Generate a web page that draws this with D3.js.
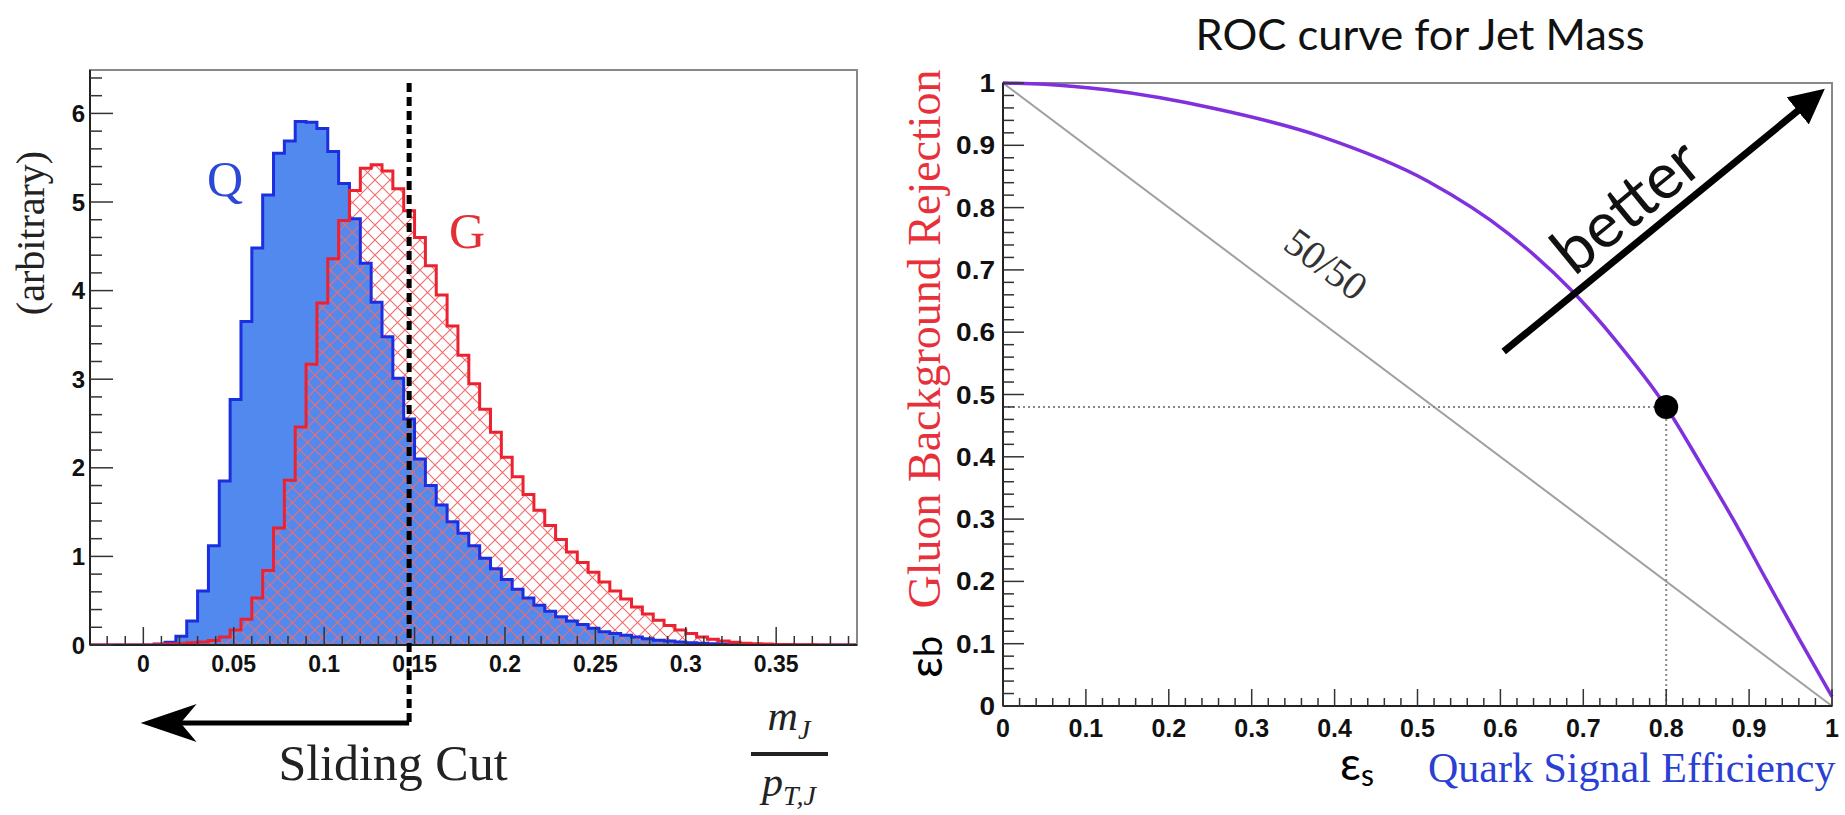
<!DOCTYPE html>
<html>
<head>
<meta charset="utf-8">
<script src="https://cdn.jsdelivr.net/npm/d3@7"></script>
<style>
	body { margin: 0; background: #fff; }
</style>
</head>
<body>
<svg id="fig" width="1845" height="815"></svg>
<script>
// histogram binning (mJ / pTJ)
const binLow = -0.03
const binWidth = 0.006
const quarkCounts = [0, 0, 0, 0, 0, 0, 0.01, 0.03, 0.10, 0.27, 0.61, 1.12, 1.85, 2.77, 3.65, 4.48, 5.08, 5.55, 5.69, 5.91,
	5.90, 5.83, 5.57, 5.21, 4.81, 4.31, 3.87, 3.48, 3.01, 2.55, 2.10, 1.80, 1.58, 1.39, 1.26, 1.12, 0.98, 0.86, 0.74, 0.63,
	0.53, 0.45, 0.38, 0.32, 0.27, 0.23, 0.19, 0.15, 0.13, 0.11, 0.09, 0.07, 0.055, 0.045, 0.035, 0.025, 0.02, 0.015, 0.01, 0.008,
	0.005, 0.003, 0, 0, 0, 0, 0, 0, 0, 0, 0]
const gluonCounts = [0, 0, 0, 0, 0, 0, 0.005, 0.01, 0.015, 0.025, 0.035, 0.05, 0.09, 0.17, 0.29, 0.53, 0.84, 1.32, 1.86, 2.46,
	3.17, 3.86, 4.36, 4.79, 5.13, 5.38, 5.42, 5.35, 5.15, 4.90, 4.60, 4.28, 3.95, 3.60, 3.27, 2.95, 2.66, 2.40, 2.12, 1.90,
	1.70, 1.52, 1.35, 1.19, 1.05, 0.93, 0.82, 0.71, 0.61, 0.52, 0.43, 0.35, 0.28, 0.22, 0.17, 0.13, 0.09, 0.065, 0.045, 0.03,
	0.02, 0.015, 0.01, 0.007, 0.005, 0.003, 0.002, 0, 0, 0, 0]
const histXTicks = [0, 0.05, 0.1, 0.15, 0.2, 0.25, 0.3, 0.35]
const histYTicks = [0, 1, 2, 3, 4, 5, 6]
const cutValue = 0.147

// ROC curve for jet mass
const rocSignal = [0, 0.05, 0.125, 0.255, 0.384, 0.513, 0.61, 0.688, 0.739, 0.8, 0.841, 0.881, 0.921, 0.961, 1.0]
const rocRejection = [1, 0.998, 0.989, 0.959, 0.914, 0.842, 0.758, 0.664, 0.587, 0.48, 0.39, 0.299, 0.202, 0.106, 0.015]
const rocTicks = [0, 0.1, 0.2, 0.3, 0.4, 0.5, 0.6, 0.7, 0.8, 0.9, 1]
const workingPoint = [0.8, 0.48]
const betterFrom = [0.604, 0.569]
const betterTo = [0.975, 0.973]

const svg = d3.select("#fig")
const defs = svg.append("defs")
const tickFont = "'Liberation Sans', Arial, sans-serif"
const serif = "'Liberation Serif', 'Times New Roman', serif"
const gill = "Lato, 'Open Sans', sans-serif"

// ---------------- left panel ----------------
let hx = d3.scaleLinear().domain([-0.0295, 0.3947]).range([90, 857])
let hy = d3.scaleLinear().domain([0, 6.49]).range([645, 70])

defs.append("clipPath").attr("id", "hclip")
	.append("rect").attr("x", 90).attr("y", 70).attr("width", 767).attr("height", 575)
let pat = defs.append("pattern").attr("id", "hatch")
	.attr("patternUnits", "userSpaceOnUse").attr("width", 15).attr("height", 15)
pat.append("path").attr("d", "M0,0L15,15M15,0L0,15")
	.attr("stroke", "#f26b6b").attr("stroke-width", 1.1).attr("fill", "none")

function histPoints(counts) {
	let pts = counts.map((c, i) => [binLow + i * binWidth, c])
	pts.push([binLow + counts.length * binWidth, counts[counts.length - 1]])
	return pts
}
let histLine = d3.line().x(d => hx(d[0])).y(d => hy(d[1])).curve(d3.curveStepAfter)
let histArea = d3.area().x(d => hx(d[0])).y0(hy(0)).y1(d => hy(d[1])).curve(d3.curveStepAfter)

let hg = svg.append("g").attr("clip-path", "url(#hclip)")
hg.append("path").attr("d", histArea(histPoints(quarkCounts))).attr("fill", "#5289ef")
hg.append("path").attr("d", histArea(histPoints(gluonCounts))).attr("fill", "url(#hatch)")
hg.append("path").attr("d", histLine(histPoints(quarkCounts)))
	.attr("fill", "none").attr("stroke", "#1c2fe0").attr("stroke-width", 3)
hg.append("path").attr("d", histLine(histPoints(gluonCounts)))
	.attr("fill", "none").attr("stroke", "#ec2230").attr("stroke-width", 3)

// frame + ticks (ROOT style, pointing inwards)
svg.append("rect").attr("x", 90).attr("y", 70).attr("width", 767).attr("height", 575)
	.attr("fill", "none").attr("stroke", "#888").attr("stroke-width", 2)
svg.append("line").attr("x1", 90).attr("x2", 857).attr("y1", 645).attr("y2", 645).attr("stroke", "#222").attr("stroke-width", 2)
svg.append("line").attr("x1", 90).attr("x2", 90).attr("y1", 70).attr("y2", 645).attr("stroke", "#222").attr("stroke-width", 2)

let hticks = svg.append("g").attr("stroke", "#333").attr("stroke-width", 1.5)
d3.range(-2, 40).map(k => k / 100).forEach(v => {
	let major = histXTicks.includes(+v.toFixed(2))
	hticks.append("line").attr("x1", hx(v)).attr("x2", hx(v))
		.attr("y1", 645).attr("y2", 645 - (major ? 18 : 9))
})
d3.range(0, 33).map(k => k / 5).forEach(v => {
	let major = Number.isInteger(v)
	hticks.append("line").attr("x1", 90).attr("x2", 90 + (major ? 23 : 12))
		.attr("y1", hy(v)).attr("y2", hy(v))
})

svg.selectAll("text.hxt").data(histXTicks).join("text").attr("class", "hxt")
	.attr("x", d => hx(d)).attr("y", 672)
	.attr("text-anchor", "middle").style("font-family", tickFont).style("font-weight", "bold")
	.style("font-size", "23px").attr("fill", "#111").text(d => String(d))
svg.selectAll("text.hyt").data(histYTicks).join("text").attr("class", "hyt")
	.attr("x", 85).attr("y", d => hy(d) + 8.5)
	.attr("text-anchor", "end").style("font-family", tickFont).style("font-weight", "bold")
	.style("font-size", "24px").attr("fill", "#111").text(d => String(d))

svg.append("text").attr("transform", "translate(44,233) rotate(-90)")
	.attr("text-anchor", "middle").style("font-family", serif).style("font-size", "40px")
	.attr("fill", "#222").text("(arbitrary)")

svg.append("text").attr("x", 225).attr("y", 196).attr("text-anchor", "middle")
	.style("font-family", serif).style("font-size", "50px").attr("fill", "#2c49d6").text("Q")
svg.append("text").attr("x", 467).attr("y", 248).attr("text-anchor", "middle")
	.style("font-family", serif).style("font-size", "50px").attr("fill", "#e23037").text("G")

// sliding cut
svg.append("line").attr("x1", hx(cutValue)).attr("x2", hx(cutValue)).attr("y1", 83).attr("y2", 723)
	.attr("stroke", "#000").attr("stroke-width", 5).attr("stroke-dasharray", "9,5")
svg.append("line").attr("x1", hx(cutValue)).attr("x2", hx(0) + 30).attr("y1", 723).attr("y2", 723)
	.attr("stroke", "#000").attr("stroke-width", 5)
let tip = hx(-0.0015)
svg.append("path")
	.attr("d", `M${tip},723L${tip + 56},704L${tip + 40},723L${tip + 56},742Z`)
	.attr("fill", "#000")
svg.append("text").attr("x", 393).attr("y", 780).attr("text-anchor", "middle")
	.style("font-family", serif).style("font-size", "50px").attr("fill", "#222").text("Sliding Cut")

// m_J / p_T,J
let frac = svg.append("g").style("font-family", serif).style("font-style", "italic").attr("fill", "#222")
let num = frac.append("text").attr("x", 789).attr("y", 730).attr("text-anchor", "middle").style("font-size", "42px")
num.append("tspan").text("m")
num.append("tspan").attr("dy", 9).style("font-size", "28px").text("J")
frac.append("line").attr("x1", 751).attr("x2", 828).attr("y1", 754).attr("y2", 754)
	.attr("stroke", "#222").attr("stroke-width", 4)
let den = frac.append("text").attr("x", 789).attr("y", 796).attr("text-anchor", "middle").style("font-size", "42px")
den.append("tspan").text("p")
den.append("tspan").attr("dy", 9).style("font-size", "28px").text("T,J")

// ---------------- right panel: ROC ----------------
let rx = d3.scaleLinear().domain([0, 1]).range([1003, 1832])
let ry = d3.scaleLinear().domain([0, 1]).range([706, 83])

svg.append("text").attr("x", 1420).attr("y", 50).attr("text-anchor", "middle")
	.style("font-family", gill).style("font-size", "42px").attr("fill", "#111")
	.attr("textLength", 449).attr("lengthAdjust", "spacingAndGlyphs")
	.text("ROC curve for Jet Mass")

svg.append("rect").attr("x", 1003).attr("y", 83).attr("width", 829).attr("height", 623)
	.attr("fill", "none").attr("stroke", "#888").attr("stroke-width", 2)

// 50/50 diagonal
svg.append("line").attr("x1", rx(0)).attr("y1", ry(1)).attr("x2", rx(1)).attr("y2", ry(0))
	.attr("stroke", "#a0a0a0").attr("stroke-width", 2)
let diagAngle = Math.atan2(ry(0) - ry(1), rx(1) - rx(0)) * 180 / Math.PI
svg.append("text").attr("transform", `translate(1318,275) rotate(${diagAngle})`)
	.attr("text-anchor", "middle").style("font-family", serif).style("font-size", "40px")
	.attr("fill", "#333").text("50/50")

// working point guides
svg.append("line").attr("x1", rx(0)).attr("x2", rx(workingPoint[0]))
	.attr("y1", ry(workingPoint[1])).attr("y2", ry(workingPoint[1]))
	.attr("stroke", "#888").attr("stroke-width", 2).attr("stroke-dasharray", "2,3")
svg.append("line").attr("x1", rx(workingPoint[0])).attr("x2", rx(workingPoint[0]))
	.attr("y1", ry(0)).attr("y2", ry(workingPoint[1]))
	.attr("stroke", "#888").attr("stroke-width", 2).attr("stroke-dasharray", "2,3")

let rocLine = d3.line().x(d => rx(d[0])).y(d => ry(d[1])).curve(d3.curveMonotoneX)
svg.append("path").attr("d", rocLine(d3.zip(rocSignal, rocRejection)))
	.attr("fill", "none").attr("stroke", "#8030dc").attr("stroke-width", 3.5)

svg.append("circle").attr("cx", rx(workingPoint[0])).attr("cy", ry(workingPoint[1])).attr("r", 12).attr("fill", "#000")

// axes
svg.append("line").attr("x1", 1003).attr("x2", 1832).attr("y1", 706).attr("y2", 706).attr("stroke", "#222").attr("stroke-width", 2)
svg.append("line").attr("x1", 1003).attr("x2", 1003).attr("y1", 83).attr("y2", 706).attr("stroke", "#222").attr("stroke-width", 2)
let rticks = svg.append("g").attr("stroke", "#333").attr("stroke-width", 1.5)
d3.range(0, 51).map(k => k / 50).forEach(v => {
	let major = Math.abs(v * 10 - Math.round(v * 10)) < 1e-6
	rticks.append("line").attr("x1", rx(v)).attr("x2", rx(v)).attr("y1", 706).attr("y2", 706 - (major ? 17 : 8))
	rticks.append("line").attr("x1", 1003).attr("x2", 1003 + (major ? 21 : 11)).attr("y1", ry(v)).attr("y2", ry(v))
})
svg.selectAll("text.rxt").data(rocTicks).join("text").attr("class", "rxt")
	.attr("x", d => rx(d)).attr("y", 737)
	.attr("text-anchor", "middle").style("font-family", tickFont).style("font-weight", "bold")
	.style("font-size", "25px").attr("fill", "#111").text(d => String(d))
svg.selectAll("text.ryt").data(rocTicks).join("text").attr("class", "ryt")
	.attr("x", 995).attr("y", d => ry(d) + 9)
	.attr("text-anchor", "end").style("font-family", tickFont).style("font-weight", "bold")
	.style("font-size", "25px").attr("fill", "#111").text(d => String(d))
	.each(function () {
		let w = this.getComputedTextLength()
		d3.select(this).attr("textLength", w * 1.12).attr("lengthAdjust", "spacingAndGlyphs")
	})

// better arrow
defs.append("marker").attr("id", "head").attr("viewBox", "0 0 10 10").attr("refX", 5).attr("refY", 5)
	.attr("markerWidth", 5).attr("markerHeight", 5).attr("orient", "auto")
	.append("path").attr("d", "M0,0L10,5L0,10Z").attr("fill", "#000")
let bx1 = rx(betterFrom[0]), by1 = ry(betterFrom[1]), bx2 = rx(betterTo[0]), by2 = ry(betterTo[1])
svg.append("line").attr("x1", bx1).attr("y1", by1).attr("x2", bx2).attr("y2", by2)
	.attr("stroke", "#000").attr("stroke-width", 7).attr("marker-end", "url(#head)")
let blen = Math.hypot(bx2 - bx1, by2 - by1)
let ux = (bx2 - bx1) / blen, uy = (by2 - by1) / blen
let betterAngle = Math.atan2(uy, ux) * 180 / Math.PI
// text sits on the arrow, just above it
let bcx = bx1 + ux * 0.47 * blen + uy * 13
let bcy = by1 + uy * 0.47 * blen - ux * 13
svg.append("text").attr("transform", `translate(${bcx},${bcy}) rotate(${betterAngle})`)
	.attr("text-anchor", "middle").style("font-family", gill).style("font-size", "64px")
	.attr("fill", "#111").text("better")

// axis titles
svg.append("text").attr("transform", "translate(940,339) rotate(-90)")
	.attr("text-anchor", "middle").style("font-family", serif).style("font-size", "46px")
	.attr("fill", "#e8303a").text("Gluon Background Rejection")
let eb = svg.append("text").attr("transform", "translate(942,657) rotate(-90)")
	.attr("text-anchor", "middle").style("font-family", gill).attr("fill", "#000")
eb.append("tspan").style("font-size", "46px").text("ε")
eb.append("tspan").style("font-size", "38px").text("b")
let es = svg.append("text").attr("x", 1340).attr("y", 780).style("font-family", gill).attr("fill", "#000")
es.append("tspan").style("font-size", "46px").text("ε")
es.append("tspan").attr("dy", 6).style("font-size", "30px").text("s")
svg.append("text").attr("x", 1428).attr("y", 782)
	.style("font-family", serif).style("font-size", "42px").attr("fill", "#2a40d4")
	.text("Quark Signal Efficiency")
</script>
</body>
</html>
